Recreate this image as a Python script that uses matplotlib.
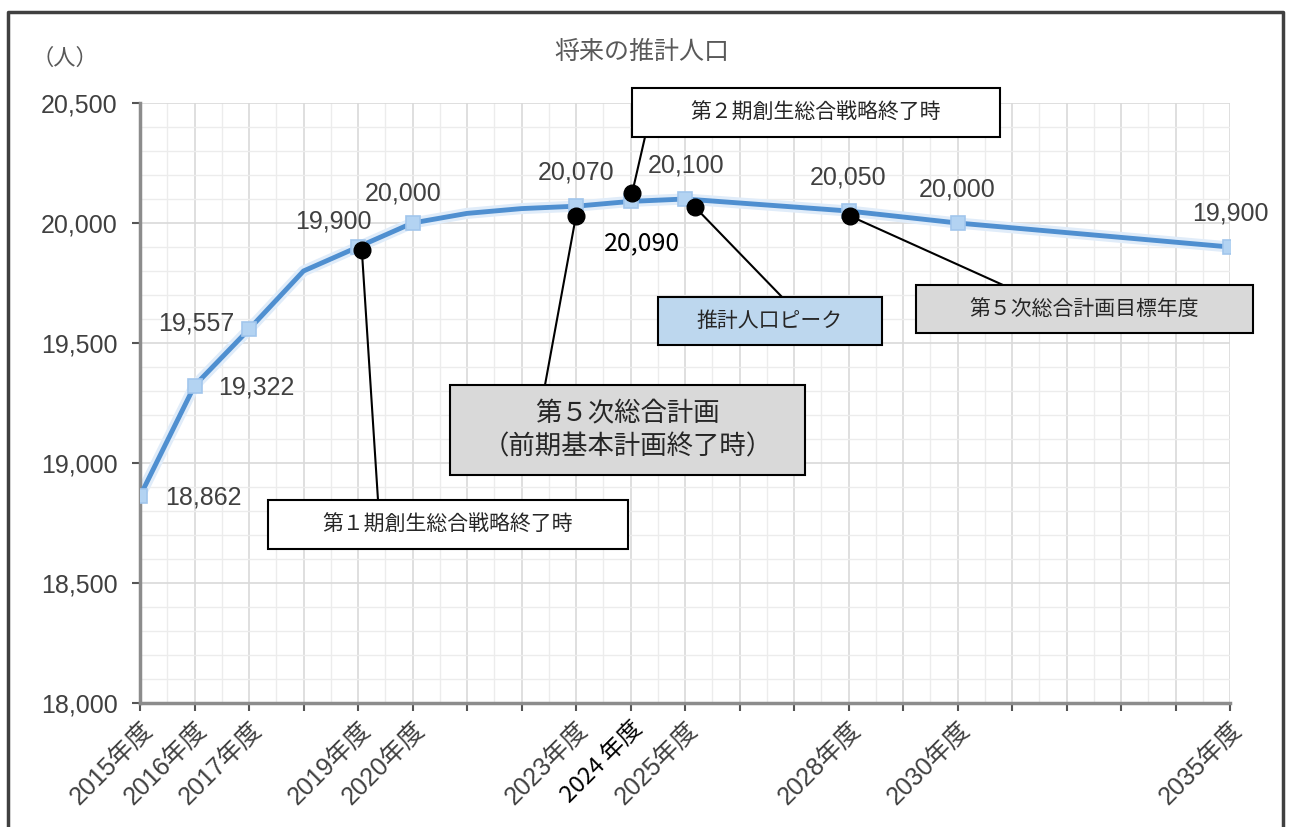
import matplotlib.pyplot as plt
from matplotlib.patches import Rectangle
from matplotlib.ticker import MultipleLocator

# =========================
# DATA
# =========================

years = [2015, 2016, 2017, 2018, 2019, 2020, 2021, 2022, 2023, 2024, 2025, 2028, 2030, 2035]
population = [18862, 19322, 19557, 19800, 19900, 20000, 20040, 20060, 20070, 20090, 20100, 20050, 20000, 19900]

labeled_years = [2015, 2016, 2017, 2019, 2020, 2023, 2024, 2025, 2028, 2030, 2035]
tick_years = [2015, 2016, 2017, 2019, 2020, 2023, 2024, 2025, 2028, 2030, 2035]

title = "将来の推計人口"
unit = "（人）"

# callouts: (year the dot sits on, text, fill colour)
callouts = [
    (2019, "第１期創生総合戦略終了時", "white"),
    (2023, "第５次総合計画\n（前期基本計画終了時）", "#d9d9d9"),
    (2024, "第２期創生総合戦略終了時", "white"),
    (2025, "推計人口ピーク", "#bdd7ee"),
    (2028, "第５次総合計画目標年度", "#d9d9d9"),
]

# =========================
# LAYOUT (pixels of the 1289x827 picture)
# =========================

W, H = 1289, 827
AX_L, AX_R, AX_T, AX_B = 140, 1230, 103, 703
X0, X1, Y0, Y1 = 2015, 2035, 18000, 20500


def px(xp, yp):
    # picture pixel -> data coordinates
    x = X0 + (xp - AX_L) / (AX_R - AX_L) * (X1 - X0)
    y = Y1 - (yp - AX_T) / (AX_B - AX_T) * (Y1 - Y0)
    return x, y


label_offsets = {  # offset of each value label from its point, in pixels
    2015: (63, -1), 2016: (62, -2), 2017: (-53, 6), 2019: (-25, 26),
    2020: (-9, 30), 2023: (0, 34), 2024: (12, -42), 2025: (1, 33),
    2028: (0, 34), 2030: (0, 34), 2035: (0, 33),
}
dot_offsets = {  # dot offset from point, (years, persons)
    2019: (0.07, -12), 2023: (0.0, -40), 2024: (0.03, 35),
    2025: (0.18, -33), 2028: (0.03, -21),
}
boxes = {  # x0, y0, x1, y1 in pixels, line end point, font size
    2019: ((268, 500, 628, 549), (378, 500), 15),
    2023: ((450, 385, 805, 475), (545, 385), 19),
    2024: ((632, 88, 1000, 137), (645, 137), 15),
    2025: ((658, 297, 882, 345), (782, 297), 15),
    2028: ((916, 285, 1253, 333), (1003, 285), 15),
}

LATIN_JP = ['Liberation Sans', 'Noto Sans CJK JP']
JP = ['Noto Sans CJK JP', 'DejaVu Sans']
plt.rcParams['font.family'] = LATIN_JP

# =========================
# PLOT
# =========================

fig = plt.figure(figsize=(W / 100, H / 100), dpi=100)
ax = fig.add_axes([AX_L / W, 1 - AX_B / H, (AX_R - AX_L) / W, (AX_B - AX_T) / H])
ax.set_xlim(X0, X1)
ax.set_ylim(Y0, Y1)

# grid
ax.xaxis.set_major_locator(MultipleLocator(1))
ax.xaxis.set_minor_locator(MultipleLocator(0.5))
ax.yaxis.set_major_locator(MultipleLocator(500))
ax.yaxis.set_minor_locator(MultipleLocator(100))
ax.grid(which='major', color='#d9d9d9', lw=1.2)
ax.grid(which='minor', color='#ececec', lw=1.0)
ax.set_axisbelow(True)
ax.tick_params(which='minor', length=0)
ax.tick_params(which='major', length=6, width=1.5, color='#555555', direction='out')

for s in ['top', 'right']:
    ax.spines[s].set_visible(False)
for s in ['left', 'bottom']:
    ax.spines[s].set_color('#8c8c8c')
    ax.spines[s].set_linewidth(2.5)

# series
mark_idx = [years.index(y) for y in labeled_years]
ax.plot(years, population, color='#e0ecf9', lw=8, solid_capstyle='round', zorder=2)
ax.plot(years, population, color='#4f8fd0', lw=3.5, zorder=3,
        marker='s', markevery=mark_idx, ms=10, mfc='#b3d3f2', mec='#a2c6ec', mew=1.2)

# value labels
for y in labeled_years:
    v = population[years.index(y)]
    dx, dy = label_offsets[y]
    if y == 2024:
        ax.annotate(f"{v:,}", (y, v), xytext=(dx, dy), textcoords='offset pixels',
                    ha='center', va='center', fontsize=18, color='black',
                    family=JP, zorder=6)
    else:
        ax.annotate(f"{v:,}", (y, v), xytext=(dx, dy), textcoords='offset pixels',
                    ha='center', va='center', fontsize=18, color='#404040', zorder=6)

# callouts
for y, text, fill in callouts:
    v = population[years.index(y)]
    ddx, ddy = dot_offsets[y]
    dot = (y + ddx, v + ddy)
    (bx0, by0, bx1, by1), end, fs = boxes[y]
    x0, y0 = px(bx0, by1)
    x1, y1 = px(bx1, by0)
    ex, ey = px(*end)
    ax.plot([dot[0], ex], [dot[1], ey], color='black', lw=1.5, zorder=7, clip_on=False)
    ax.plot(*dot, 'o', color='black', ms=12, zorder=8, clip_on=False)
    ax.add_patch(Rectangle((x0, y0), x1 - x0, y1 - y0, facecolor=fill,
                           edgecolor='black', lw=1.5, zorder=9, clip_on=False))
    ax.text((x0 + x1) / 2, (y0 + y1) / 2, text, ha='center', va='center',
            fontsize=fs, color='#262626', family=JP, zorder=10,
            linespacing=1.3)

# axes labels
xlabels = []
for y in range(X0, X1 + 1):
    if y == 2024:
        xlabels.append(f"{y} 年度")
    elif y in tick_years:
        xlabels.append(f"{y}年度")
    else:
        xlabels.append("")
ax.set_xticks(range(X0, X1 + 1))
ax.set_xticklabels(xlabels, rotation=45, ha='right', va='top', rotation_mode='anchor',
                   fontsize=18, color='#404040')
for lab in ax.get_xticklabels():
    if lab.get_text().startswith("2024"):
        lab.set_color('black')
        lab.set_family(JP)
        lab.set_fontsize(17)
ax.set_yticks(range(Y0, Y1 + 1, 500))
ax.set_yticklabels([f"{v:,}" for v in range(Y0, Y1 + 1, 500)], fontsize=18, color='#404040')
ax.tick_params(axis='y', pad=10)
ax.tick_params(axis='x', pad=4)

fig.text(642 / W, 1 - 52 / H, title, ha='center', va='center', fontsize=18,
         color='#595959', family=JP)
fig.text(65 / W, 1 - 58 / H, unit, ha='center', va='center', fontsize=16,
         color='#595959', family=JP)

# outer frame
fig.add_artist(plt.Line2D([8 / W, 8 / W, 1283 / W, 1283 / W], [0, 1 - 12 / H, 1 - 12 / H, 0],
                          color='#404040', lw=2.5, transform=fig.transFigure))

fig.savefig("out.png", dpi=100)
